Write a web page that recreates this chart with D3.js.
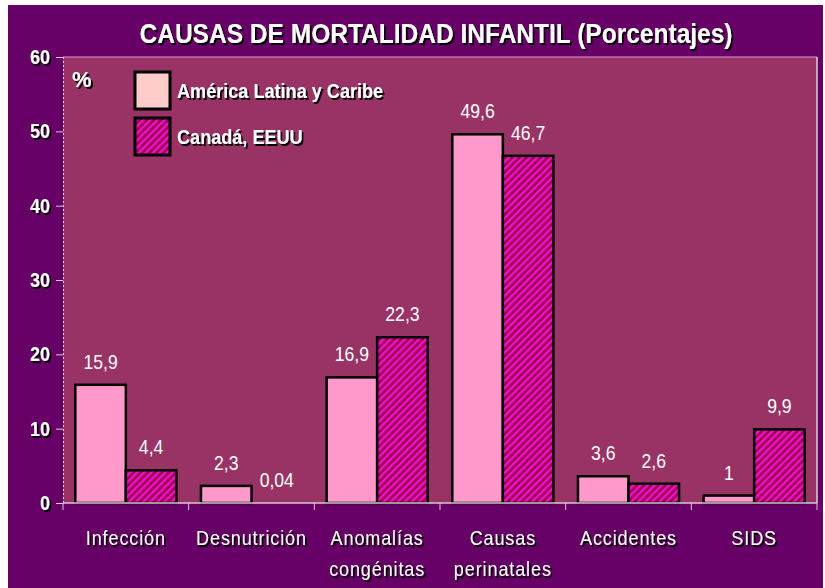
<!DOCTYPE html>
<html>
<head>
<meta charset="utf-8">
<script src="https://cdn.jsdelivr.net/npm/d3@7"></script>
<style>
  body { margin: 0; background: #ffffff; }
  svg { display: block; }
</style>
</head>
<body>
<div id="chart"></div>
<script>
// Data
const categories = [['Infección'], ['Desnutrición'], ['Anomalías', 'congénitas'],
  ['Causas', 'perinatales'], ['Accidentes'], ['SIDS']];
const latam = [15.9, 2.3, 16.9, 49.6, 3.6, 1];
const canada = [4.4, 0.04, 22.3, 46.7, 2.6, 9.9];
const latamLabels = ['15,9', '2,3', '16,9', '49,6', '3,6', '1'];
const canadaLabels = ['4,4', '0,04', '22,3', '46,7', '2,6', '9,9'];
const yTicks = [0, 10, 20, 30, 40, 50, 60];
const seriesNames = ['América Latina y Caribe', 'Canadá, EEUU'];
const titleText = 'CAUSAS DE MORTALIDAD INFANTIL (Porcentajes)';

const W = 825, H = 588;
const FONT = "'Liberation Sans', Arial, sans-serif";
const plot = { left: 63, right: 817, top: 57, bottom: 503 };

const svg = d3.select('#chart').append('svg')
  .attr('width', W).attr('height', H);

const defs = svg.append('defs');
const pat = defs.append('pattern')
  .attr('id', 'hatch')
  .attr('patternUnits', 'userSpaceOnUse')
  .attr('width', 5).attr('height', 5)
  .attr('patternTransform', 'rotate(45)');
pat.append('rect').attr('width', 5).attr('height', 5).attr('fill', '#a0004c');
pat.append('rect').attr('x', 0).attr('width', 2.3).attr('height', 5).attr('fill', '#f010d8');

// shadow filter for white text
const f = defs.append('filter').attr('id', 'shadow')
  .attr('x', '-10%').attr('y', '-10%').attr('width', '130%').attr('height', '140%');
f.append('feDropShadow').attr('dx', 2).attr('dy', 2).attr('stdDeviation', 0.3)
  .attr('flood-color', '#000').attr('flood-opacity', 1);

// narrow-looking text: no condensed font installed, so squeeze horizontally
function ntext (sel, x, y, sx) {
  return sel.append('text')
    .attr('transform', 'translate(' + x + ',' + y + ') scale(' + sx + ',1)')
    .attr('font-family', FONT).attr('fill', '#fff');
}

// backgrounds
svg.append('rect').attr('x', 8).attr('y', 5).attr('width', 815).attr('height', H - 5)
  .attr('fill', '#660066');
svg.append('rect').attr('x', plot.left).attr('y', plot.top)
  .attr('width', plot.right - plot.left).attr('height', plot.bottom - plot.top)
  .attr('fill', '#993366');
// plot frame (light top / right)
svg.append('line').attr('x1', plot.left).attr('x2', plot.right)
  .attr('y1', plot.top).attr('y2', plot.top).attr('stroke', '#d9a0d0').attr('stroke-width', 1);
svg.append('line').attr('x1', plot.right).attr('x2', plot.right)
  .attr('y1', plot.top).attr('y2', plot.bottom).attr('stroke', '#d9d0d9').attr('stroke-width', 1.5);

const x = d3.scaleBand()
  .domain(d3.range(categories.length))
  .range([plot.left, plot.right])
  .paddingInner(0).paddingOuter(0);
const y = d3.scaleLinear().domain([0, 60]).range([plot.bottom, plot.top]);

const inner = 12.3;
const bw = (x.bandwidth() - 2 * inner) / 2;

// Y axis
const yAxis = svg.append('g')
  .attr('transform', 'translate(' + plot.left + ',0)')
  .call(d3.axisLeft(y).tickValues(yTicks).tickSize(7).tickFormat(''));
yAxis.select('.domain').attr('stroke', '#e0c8e0').attr('stroke-dasharray', '2,2');
yAxis.selectAll('.tick line').attr('stroke', '#e0c8e0');
yTicks.forEach(t => {
  ntext(svg, plot.left - 13, y(t) + 7, 0.9)
    .attr('text-anchor', 'end').attr('font-weight', 'bold').attr('font-size', 20)
    .attr('filter', 'url(#shadow)').text(t);
});

// bars
const g = svg.append('g');
g.selectAll('rect.latam').data(latam).join('rect')
  .attr('class', 'latam')
  .attr('x', (d, i) => x(i) + inner)
  .attr('y', d => y(d))
  .attr('width', bw)
  .attr('height', d => y(0) - y(d))
  .attr('fill', '#ff99cc')
  .attr('stroke', '#000').attr('stroke-width', 2.5);
g.selectAll('rect.canada').data(canada).join('rect')
  .attr('class', 'canada')
  .attr('x', (d, i) => x(i) + inner + bw)
  .attr('y', d => y(d))
  .attr('width', bw)
  .attr('height', d => y(0) - y(d))
  .attr('fill', 'url(#hatch)')
  .attr('stroke', '#000').attr('stroke-width', d => d < 0.5 ? 0 : 2.5);

// X axis
const xAxis = svg.append('g')
  .attr('transform', 'translate(0,' + plot.bottom + ')');
xAxis.append('line').attr('x1', plot.left).attr('x2', plot.right)
  .attr('stroke', '#d9c8d0').attr('stroke-width', 1.5);
xAxis.selectAll('line.tk').data(d3.range(categories.length + 1)).join('line')
  .attr('class', 'tk')
  .attr('x1', i => plot.left + i * x.bandwidth()).attr('x2', i => plot.left + i * x.bandwidth())
  .attr('y1', 0).attr('y2', 7).attr('stroke', '#d9c8d0');

categories.forEach((lines, i) => {
  const t = ntext(svg, x(i) + x.bandwidth() / 2, 545, 0.9)
    .attr('text-anchor', 'middle').attr('font-size', 20)
    .attr('letter-spacing', 1).attr('filter', 'url(#shadow)');
  t.selectAll('tspan').data(lines).join('tspan')
    .attr('x', 0).attr('y', (d, k) => k * 31)
    .text(d => d);
});

// value labels
latam.forEach((d, i) => {
  ntext(svg, x(i) + inner + bw / 2, y(d) - 16, 0.88)
    .attr('text-anchor', 'middle').attr('font-size', 20).text(latamLabels[i]);
});
canada.forEach((d, i) => {
  ntext(svg, x(i) + inner + bw * 1.5, y(d) - 16, 0.88)
    .attr('text-anchor', 'middle').attr('font-size', 20).text(canadaLabels[i]);
});

// title
ntext(svg, 436, 43, 0.876)
  .attr('text-anchor', 'middle').attr('font-weight', 'bold').attr('font-size', 28)
  .attr('filter', 'url(#shadow)')
  .text(titleText);

// % label
ntext(svg, 72, 87, 1)
  .attr('font-weight', 'bold').attr('font-size', 22)
  .attr('filter', 'url(#shadow)').text('%');

// legend
const legend = svg.append('g');
const legFills = ['#ffcccc', 'url(#hatch)'];
legend.selectAll('rect').data(seriesNames).join('rect')
  .attr('x', 135).attr('y', (d, i) => 72 + i * 46)
  .attr('width', 35).attr('height', 37)
  .attr('fill', (d, i) => legFills[i])
  .attr('stroke', '#000').attr('stroke-width', 3);
seriesNames.forEach((name, i) => {
  ntext(legend, 177, 98 + i * 46, 0.862)
    .attr('font-weight', 'bold').attr('font-size', 21)
    .attr('filter', 'url(#shadow)')
    .text(i === 0 ? 'América Latina y Caribe' : name);
});
</script>
</body>
</html>
